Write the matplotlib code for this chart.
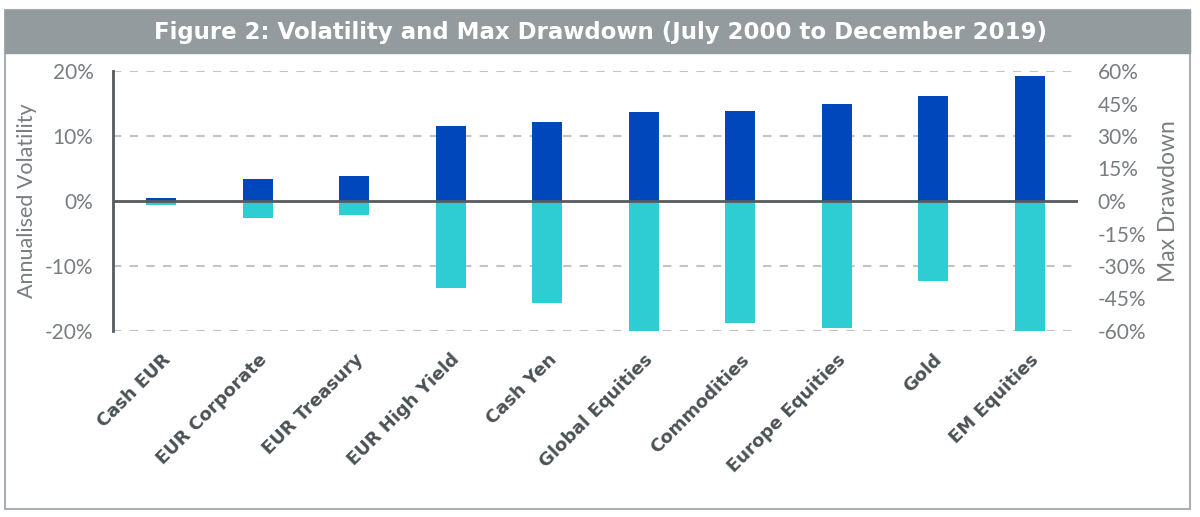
import matplotlib
matplotlib.use("Agg")
import matplotlib.pyplot as plt
from matplotlib.patches import Rectangle
from matplotlib.ticker import FuncFormatter

categories = ["Cash EUR", "EUR Corporate", "EUR Treasury", "EUR High Yield", "Cash Yen",
              "Global Equities", "Commodities", "Europe Equities", "Gold", "EM Equities"]
volatility = [0.5, 3.4, 3.8, 11.5, 12.1, 13.7, 13.9, 14.9, 16.1, 19.2]
max_drawdown = [-1.7, -8.0, -6.6, -40.1, -47.3, -59.8, -56.4, -58.7, -37.0, -60.0]
left_ticks = [-20, -10, 0, 10, 20]
right_ticks = [-60, -45, -30, -15, 0, 15, 30, 45, 60]
title = "Figure 2: Volatility and Max Drawdown (July 2000 to December 2019)"

plt.rcParams['font.family'] = ['Lato', 'DejaVu Sans']

BLUE = "#0047BB"
CYAN = "#2ECCD3"
GRID = "#BFC4C6"
TICK = "#787D80"
LABEL = "#4A5256"

fig = plt.figure(figsize=(12, 5.17), dpi=100)

# outer frame
fig.patches.append(Rectangle((5/1200, 1-509/517), 1185/1200, 499/517, transform=fig.transFigure,
                             fill=False, edgecolor="#A9AFB2", linewidth=1.5, zorder=0))
# title bar
fig.patches.append(Rectangle((5/1200, 1-53/517), 1185/1200, 43/517, transform=fig.transFigure,
                             facecolor="#939B9E", edgecolor="#939B9E", linewidth=1, zorder=1))
fig.text(0.5, 1-33/517, title, ha="center", va="center", color="white",
         fontsize=16.5, fontweight="bold", family="DejaVu Sans", zorder=2)

ax = fig.add_axes([113/1200, 1-331/517, (1078-113)/1200, (331-71)/517])
ax2 = ax.twinx()

x = list(range(len(categories)))
w = 0.31
ax.bar(x, volatility, width=w, color=BLUE, zorder=3)
ax2.bar(x, max_drawdown, width=w, color=CYAN, zorder=3)

ax.set_xlim(-0.5, len(categories) - 0.5)
ax.set_ylim(-20, 20)
ax2.set_ylim(-60, 60)
ax.set_yticks(left_ticks)
ax2.set_yticks(right_ticks)
ax.yaxis.set_major_formatter(FuncFormatter(lambda v, p: f"{v:.0f}%"))
ax2.yaxis.set_major_formatter(FuncFormatter(lambda v, p: f"{v:.0f}%"))

for t in left_ticks:
    if t != 0:
        ax.axhline(t, color=GRID, linestyle=(0, (4, 4)), linewidth=1.5, zorder=1)
ax2.axhline(0, color="#555B5E", linewidth=2, zorder=4)

for a in (ax, ax2):
    for s in a.spines.values():
        s.set_visible(False)
ax.spines['left'].set_visible(True)
ax.spines['left'].set_color("#555B5E")
ax.spines['left'].set_linewidth(2)

ax.tick_params(axis='y', length=0, labelsize=15, labelcolor=TICK, pad=14)
ax2.tick_params(axis='y', length=0, labelsize=15, labelcolor=TICK, pad=14)
ax.tick_params(axis='x', length=0, pad=14)
ax.set_xticks(x)
ax.set_xticklabels(categories, rotation=45, ha="right", rotation_mode="anchor",
                   fontsize=13, fontweight="bold", color=LABEL, family="DejaVu Sans")

ax.set_ylabel("Annualised Volatility", fontsize=15.5, color=TICK, labelpad=6)
ax2.set_ylabel("Max Drawdown", fontsize=16.5, color=TICK, labelpad=9)

fig.savefig("out.png", dpi=100)
